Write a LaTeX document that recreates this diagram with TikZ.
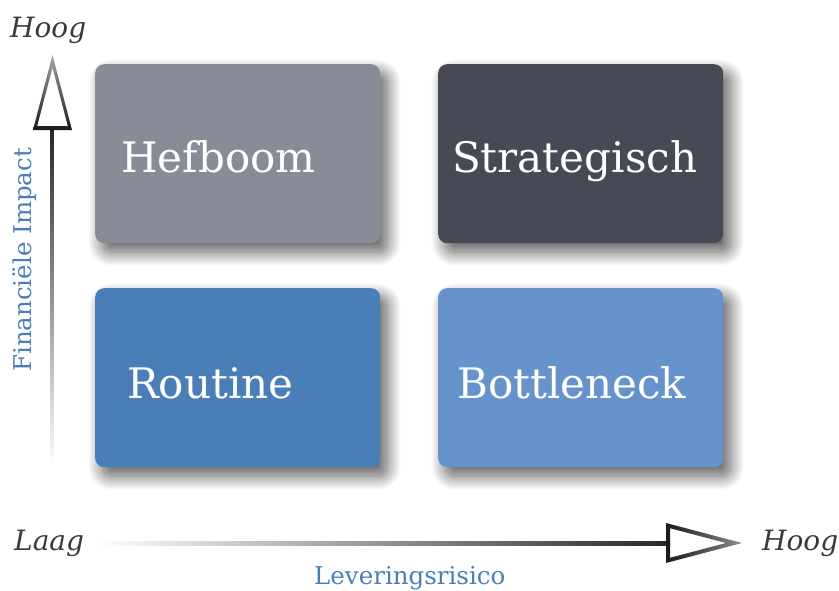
\documentclass[tikz,border=0pt]{standalone}
\usepackage{fontspec}
\setmainfont{DejaVu Serif}
\usetikzlibrary{shadows.blur}

\definecolor{cellgray}{HTML}{898C96}
\definecolor{celldark}{HTML}{474A55}
\definecolor{cellblue}{HTML}{4A7EB7}
\definecolor{celllight}{HTML}{6693CC}
\definecolor{axisblue}{HTML}{4A7EB7}
\definecolor{endtext}{HTML}{3A3A3A}
\definecolor{shadowtone}{HTML}{3C4150}

\tikzset{
  cell/.style={draw=none, rounded corners=9pt, minimum width=285pt, minimum height=179pt,
    anchor=north west, inner sep=0pt,
    blur shadow={shadow xshift=7pt, shadow yshift=-9pt, shadow blur radius=14pt,
      shadow blur steps=20, shadow opacity=65, shadow blur extra rounding=4pt,
      fill=shadowtone}},
  celltext/.style={anchor=base west, text=white, inner sep=0pt,
    font=\fontsize{42}{50}\selectfont},
  endlabel/.style={anchor=base west, text=endtext, inner sep=0pt,
    font=\fontsize{28}{32}\selectfont\itshape},
  axislabel/.style={anchor=base west, text=axisblue, inner sep=0pt,
    font=\fontsize{24.5}{28}\selectfont}
}

\begin{document}
\begin{tikzpicture}[x=1pt, y=-1pt]
\useasboundingbox (0,0) rectangle (839,590);

% the four quadrants
\node[cell, fill=cellgray]  (lev) at (95,64)  {};
\node[cell, fill=celldark]  (str) at (438,64) {};
\node[cell, fill=cellblue]  (rou) at (95,288) {};
\node[cell, fill=celllight] (bot) at (438,288) {};

\node[celltext] (levt) at (121,172) {Hefboom};
\node[celltext] (strt) at (452,172) {Strategisch};
\node[celltext] (rout) at (127,398) {Routine};
\node[celltext] (bott) at (457,398) {Bottleneck};

% vertical axis: fading shaft and outlined head
\shade[top color=black!85, bottom color=white] (50.5,127) rectangle (53.5,466);
\shade[top color=black!35, bottom color=black!90, even odd rule]
  (33,130) -- (72,130) -- (52.5,55) -- cycle
  (37.2,126) -- (67.8,126) -- (52.5,67.5) -- cycle;

% horizontal axis: fading shaft and outlined head
\shade[left color=white, right color=black!85] (98,541) rectangle (670,545);
\shade[left color=black!90, right color=black!45, even odd rule]
  (666,523) -- (666,563) -- (742,543) -- cycle
  (670,528.2) -- (670,557.8) -- (726,543) -- cycle;

% axis ends and titles
\node[endlabel] (yhigh) at (10,37)  {Hoog};
\node[endlabel] (xlow)  at (14,550) {Laag};
\node[endlabel] (xhigh) at (762,550) {Hoog};
\node[axislabel] (xtitle) at (314,584) {Leveringsrisico};
\node[axislabel, rotate=90] (ytitle) at (31,372) {Financiële Impact};
\end{tikzpicture}
\end{document}
